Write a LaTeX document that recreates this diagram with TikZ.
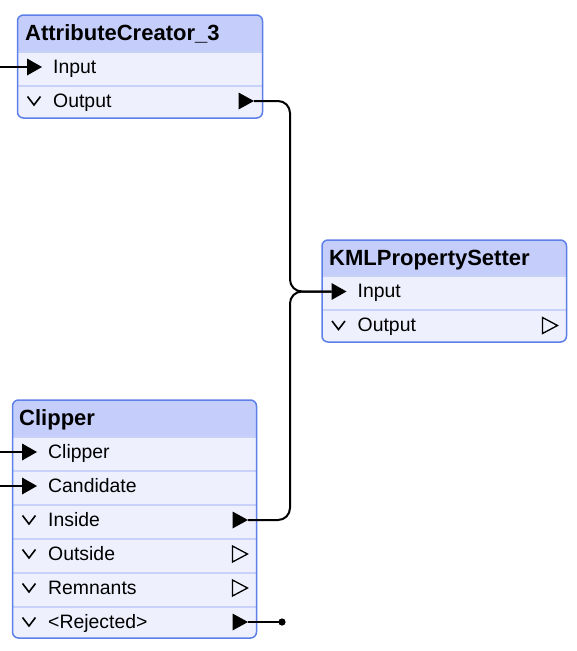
\documentclass[tikz,border=0pt]{standalone}
\usepackage{fontspec}
\setmainfont{Liberation Sans}
\definecolor{hdrfill}{RGB}{197,206,251}
\definecolor{bodyfill}{RGB}{238,240,253}
\definecolor{bordercol}{RGB}{92,128,232}
\definecolor{sepcol}{RGB}{200,210,248}
\tikzset{
  border/.style={draw=bordercol, line width=1.5pt, rounded corners=6pt},
  sepline/.style={draw=sepcol, line width=1.2pt},
  ttl/.style={anchor=base west, font=\bfseries\fontsize{22}{24}\selectfont, inner sep=0pt},
  lbl/.style={anchor=base west, font=\fontsize{19.4}{22}\selectfont, inner sep=0pt},
  conn/.style={draw=black, line width=2pt, rounded corners=12pt},
  solidtri/.style={fill=black},
  opentri/.style={draw=black, line width=1.3pt, line join=miter},
  chev/.style={draw=black, line width=1.6pt},
}
\newcommand\fmeframe[5]{%
  \fill[bodyfill, rounded corners=6pt] (#1,#2) rectangle (#3,#4);
  \begin{scope}
    \clip[rounded corners=6pt] (#1,#2) rectangle (#3,#4);
    \fill[hdrfill] (#1,#2) rectangle (#3,#5);
  \end{scope}}
% input port: name, box left, centre y
\newcommand\inport[3]{%
  \fill[solidtri] (#2+9.5,#3-8.5) -- (#2+24.5,#3) -- (#2+9.5,#3+8.5) -- cycle;
  \coordinate (#1) at (#2+9.5,#3);}
% connected output port: name, box right, centre y
\newcommand\outport[3]{%
  \fill[solidtri] (#2-24,#3-8.5) -- (#2-8.5,#3) -- (#2-24,#3+8.5) -- cycle;
  \coordinate (#1) at (#2-8.5,#3);}
\newcommand\openport[2]{%
  \draw[opentri] (#1-24,#2-8) -- (#1-9,#2) -- (#1-24,#2+8) -- cycle;}
\newcommand\chevron[2]{%
  \draw[chev] (#1+10,#2-4.5) -- (#1+16.5,#2+4) -- (#1+23,#2-4.5);}
\begin{document}
\begin{tikzpicture}[x=1pt,y=-1pt]
\useasboundingbox (0,0) rectangle (576,651);

% ---------------- AttributeCreator_3
\fmeframe{17.5}{15}{262.5}{118}{52}
\draw[sepline] (17.5,52) -- (262.5,52) (17.5,86) -- (262.5,86);
\draw[border] (17.5,15) rectangle (262.5,118);
\node[ttl] (actitle) at (25,40) {AttributeCreator\_3};
\node[lbl] (acin) at (53,73) {Input};
\node[lbl] (acout) at (53,107) {Output};
\inport{acinP}{17.5}{67}
\chevron{17.5}{101}
\outport{acoutP}{262.5}{101}

% ---------------- KMLPropertySetter
\fmeframe{322}{240}{566.5}{342}{276}
\draw[sepline] (322,276) -- (566.5,276) (322,310) -- (566.5,310);
\draw[border] (322,240) rectangle (566.5,342);
\node[ttl] (kmltitle) at (329,265) {KMLPropertySetter};
\node[lbl] (kmlin) at (357.5,297.5) {Input};
\node[lbl] (kmlout) at (357.5,331.5) {Output};
\inport{kmlinP}{322}{291.5}
\chevron{322}{325.5}
\openport{566.5}{325.5}

% ---------------- Clipper
\fmeframe{12.5}{400}{256.5}{638}{437}
\foreach \yy in {437,471,505,539,573,607}
  \draw[sepline] (12.5,\yy) -- (256.5,\yy);
\draw[border] (12.5,400) rectangle (256.5,638);
\node[ttl] (cltitle) at (19,425) {Clipper};
\node[lbl] (clclip) at (48,458) {Clipper};
\node[lbl] (clcand) at (48,492) {Candidate};
\node[lbl] (clins) at (48,526) {Inside};
\node[lbl] (clout) at (48,560) {Outside};
\node[lbl] (clrem) at (48,594) {Remnants};
\node[lbl] (clrej) at (48,628) {<Rejected>};
\inport{clclipP}{12.5}{452}
\inport{clcandP}{12.5}{486}
\chevron{12.5}{520}
\chevron{12.5}{554}
\chevron{12.5}{588}
\chevron{12.5}{622}
\outport{clinsP}{256.5}{520}
\openport{256.5}{554}
\openport{256.5}{588}
\outport{clrejP}{256.5}{622}

% ---------------- connectors
\coordinate (acfree) at (0,67);
\coordinate (clipfree) at (0,452);
\coordinate (candfree) at (0,486);
\coordinate (rejend) at (282,622);
\draw[conn] (acfree) -- (acinP);
\draw[conn] (clipfree) -- (clclipP);
\draw[conn] (candfree) -- (clcandP);
\draw[conn] (acoutP) -- (290,101) -- (290,291.5) -- (kmlinP);
\draw[conn] (clinsP) -- (290,520) -- (290,291.5) -- (kmlinP);
\draw[conn] (clrejP) -- (rejend);
\fill (rejend) circle (3.6pt);
\end{tikzpicture}
\end{document}
